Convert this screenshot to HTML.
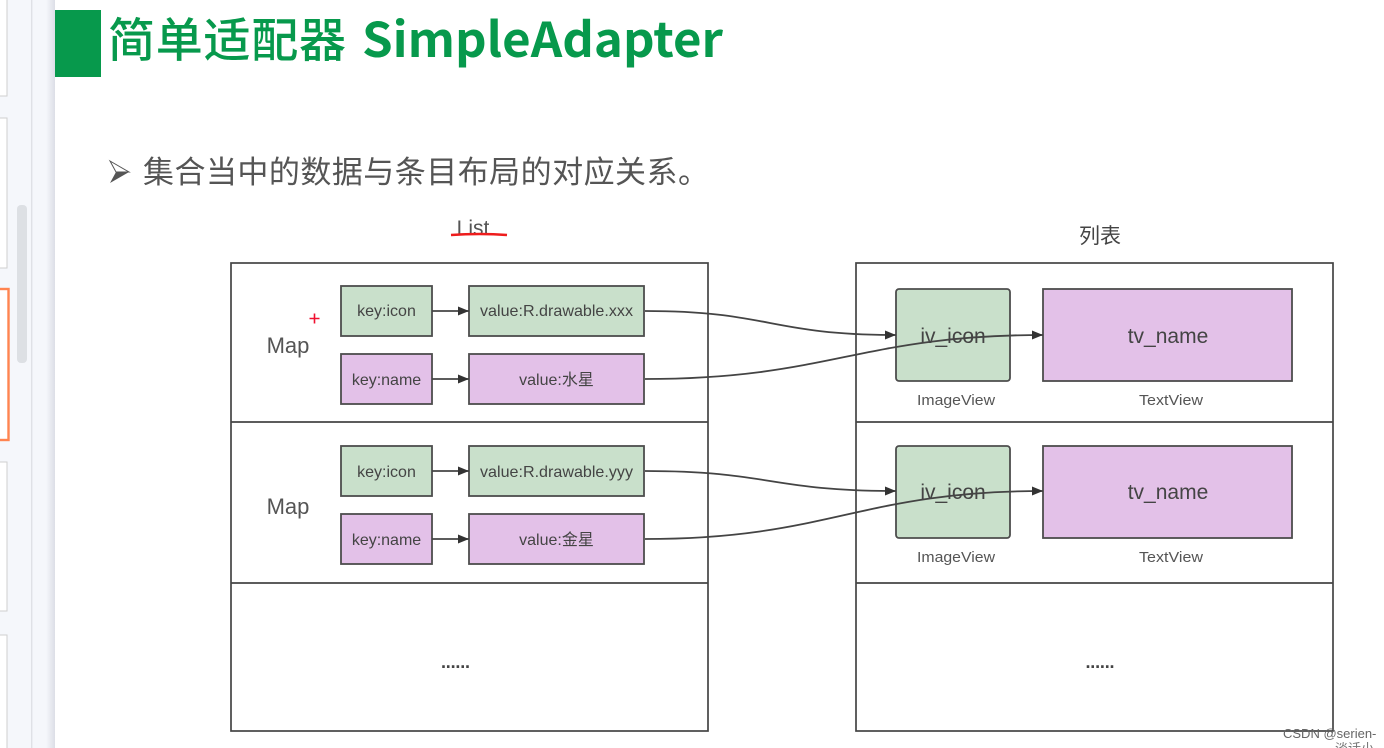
<!DOCTYPE html>
<html>
<head>
<meta charset="utf-8">
<style>
html,body{margin:0;padding:0;background:#fff;width:1384px;height:748px;overflow:hidden}
svg{display:block;position:absolute;left:0;top:0}
text{font-family:"Liberation Sans","Noto Sans CJK SC",sans-serif;fill:#444}
.cjk{font-family:"Noto Sans CJK SC","Liberation Sans",sans-serif}
.box{stroke:#4d4d4d;stroke-width:1.8}
.g{fill:#c9e0cb}
.p{fill:#e3c1e8}
.frame{fill:none;stroke:#444;stroke-width:1.7}
.wire{fill:none;stroke:#444;stroke-width:1.8}
.t15{font-size:16px;text-anchor:middle}
.t14{font-size:15px;text-anchor:middle;fill:#555}
.t20{font-size:21px;text-anchor:middle}
</style>
</head>
<body>
<svg width="1384" height="748" viewBox="0 0 1384 748" xmlns="http://www.w3.org/2000/svg">
<defs>
<marker id="a" markerUnits="userSpaceOnUse" markerWidth="12" markerHeight="10" refX="11" refY="4.5" orient="auto">
<path d="M0 0 L11 4.5 L0 9 Z" fill="#333"/>
</marker>
<linearGradient id="sh" x1="0" x2="1" y1="0" y2="0">
<stop offset="0" stop-color="#f5f7fb"/><stop offset="1" stop-color="#dcdee6"/>
</linearGradient>
</defs>

<!-- sidebar -->
<rect x="0" y="0" width="55" height="748" fill="#f5f7fb"/>
<rect x="31" y="0" width="1.4" height="748" fill="#dfe1e6"/>
<rect x="46" y="0" width="9" height="748" fill="url(#sh)"/>
<rect x="17" y="205" width="10" height="158" rx="4" fill="#dde0e4"/>
<rect x="-3" y="-10" width="10" height="106" fill="#fff" stroke="#cfcfcf"/>
<rect x="-3" y="118" width="10" height="150" fill="#fff" stroke="#cfcfcf"/>
<rect x="-3" y="289" width="11.5" height="151" fill="#fff" stroke="#ff8450" stroke-width="2.4"/>
<rect x="-3" y="462" width="10" height="149" fill="#fff" stroke="#cfcfcf"/>
<rect x="-3" y="635" width="10" height="130" fill="#fff" stroke="#cfcfcf"/>

<!-- header -->
<rect x="55" y="10" width="46" height="67" fill="#07994c"/>
<text class="cjk" x="108" y="57" font-size="47" font-weight="500" style="fill:#07994c" textLength="238" lengthAdjust="spacing">简单适配器</text>
<text class="cjk" x="362" y="57" font-size="48" font-weight="700" style="fill:#07994c" textLength="361" lengthAdjust="spacingAndGlyphs">SimpleAdapter</text>

<!-- subtitle -->
<path d="M110 161 L129 172 L110 183 L116 172 Z" fill="#555"/>
<path d="M110 161 L129 172 L116 172 Z" fill="#fff" stroke="#555" stroke-width="1"/>
<text class="cjk" x="143" y="183" font-size="31" style="fill:#555" textLength="566" lengthAdjust="spacing">集合当中的数据与条目布局的对应关系。</text>

<!-- headings -->
<text x="473" y="235" class="t20" style="fill:#555">List</text>
<path d="M451 235 Q480 233 507 235" fill="none" stroke="#ee1c1c" stroke-width="2.6"/>
<text class="cjk" x="1100" y="243" style="font-size:21px;text-anchor:middle;fill:#444">列表</text>

<!-- left frame -->
<rect class="frame" x="231" y="263" width="477" height="468"/>
<line class="frame" x1="231" y1="422" x2="708" y2="422"/>
<line class="frame" x1="231" y1="583" x2="708" y2="583"/>

<!-- right frame -->
<rect class="frame" x="856" y="263" width="477" height="468"/>
<line class="frame" x1="856" y1="422" x2="1333" y2="422"/>
<line class="frame" x1="856" y1="583" x2="1333" y2="583"/>

<!-- map labels -->
<text x="288" y="353" style="font-size:22px;text-anchor:middle;fill:#555">Map</text>
<text x="288" y="514" style="font-size:22px;text-anchor:middle;fill:#555">Map</text>
<path d="M309.500 318.500 H319.500 M314.500 313.500 V323.500" stroke="#f01030" stroke-width="1.600" fill="none"/>

<!-- row 1 left -->
<rect class="box g" x="341" y="286" width="91" height="50"/>
<text class="t15" x="386.500" y="316">key:icon</text>
<rect class="box g" x="469" y="286" width="175" height="50"/>
<text class="t15" x="556.500" y="316" textLength="153" lengthAdjust="spacingAndGlyphs">value:R.drawable.xxx</text>
<rect class="box p" x="341" y="354" width="91" height="50"/>
<text class="t15" x="386.500" y="385">key:name</text>
<rect class="box p" x="469" y="354" width="175" height="50"/>
<text class="t15" x="556.500" y="385">value:水星</text>
<line class="wire" x1="432" y1="311" x2="469" y2="311" marker-end="url(#a)"/>
<line class="wire" x1="432" y1="379" x2="469" y2="379" marker-end="url(#a)"/>

<!-- row 2 left -->
<rect class="box g" x="341" y="446" width="91" height="50"/>
<text class="t15" x="386.500" y="477">key:icon</text>
<rect class="box g" x="469" y="446" width="175" height="50"/>
<text class="t15" x="556.500" y="477" textLength="153" lengthAdjust="spacingAndGlyphs">value:R.drawable.yyy</text>
<rect class="box p" x="341" y="514" width="91" height="50"/>
<text class="t15" x="386.500" y="545">key:name</text>
<rect class="box p" x="469" y="514" width="175" height="50"/>
<text class="t15" x="556.500" y="545">value:金星</text>
<line class="wire" x1="432" y1="471" x2="469" y2="471" marker-end="url(#a)"/>
<line class="wire" x1="432" y1="539" x2="469" y2="539" marker-end="url(#a)"/>

<!-- right row 1 -->
<rect class="box g" x="896" y="289" width="114" height="92" rx="3"/>
<rect class="box p" x="1043" y="289" width="249" height="92"/>
<text x="953" y="343" class="t20" style="fill:#444">iv_icon</text>
<text x="1168" y="343" class="t20" style="fill:#444">tv_name</text>
<text x="956" y="405" class="t14" textLength="78" lengthAdjust="spacingAndGlyphs">ImageView</text>
<text x="1171" y="405" class="t14" textLength="64" lengthAdjust="spacingAndGlyphs">TextView</text>

<!-- right row 2 -->
<rect class="box g" x="896" y="446" width="114" height="92" rx="3"/>
<rect class="box p" x="1043" y="446" width="249" height="92"/>
<text x="953" y="499" class="t20" style="fill:#444">iv_icon</text>
<text x="1168" y="499" class="t20" style="fill:#444">tv_name</text>
<text x="956" y="562" class="t14" textLength="78" lengthAdjust="spacingAndGlyphs">ImageView</text>
<text x="1171" y="562" class="t14" textLength="64" lengthAdjust="spacingAndGlyphs">TextView</text>

<!-- curves -->
<path class="wire" d="M645 311 C770 311 770 335 896 335" marker-end="url(#a)"/>
<path class="wire" d="M645 379 C830 379 860 335 1043 335" marker-end="url(#a)"/>
<path class="wire" d="M645 471 C770 471 770 491 896 491" marker-end="url(#a)"/>
<path class="wire" d="M645 539 C830 539 860 491 1043 491" marker-end="url(#a)"/>

<!-- ellipses -->
<text x="455.500" y="668" style="font-size:18px;text-anchor:middle;font-weight:700;fill:#444" textLength="29" lengthAdjust="spacing">......</text>
<text x="1100" y="668" style="font-size:18px;text-anchor:middle;font-weight:700;fill:#444" textLength="29" lengthAdjust="spacing">......</text>

<!-- watermark -->
<text x="1283" y="738" font-size="13" style="fill:#666">CSDN @serien-</text>
<text class="cjk" x="1335" y="753" font-size="13" style="fill:#777">淡话小</text>
</svg>
</body>
</html>
